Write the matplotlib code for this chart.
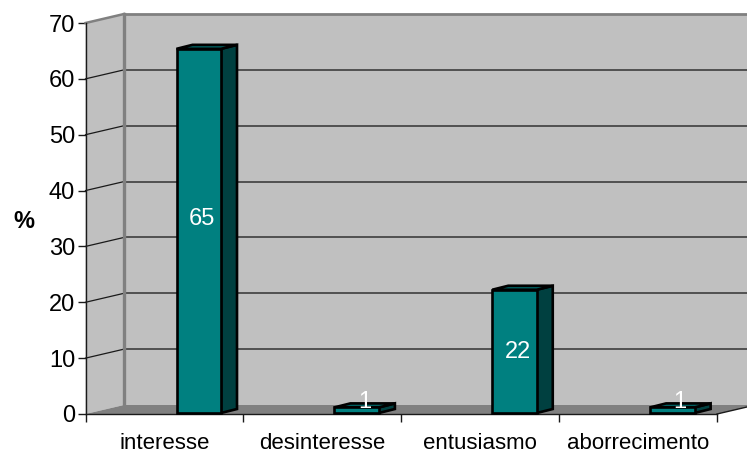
import matplotlib
matplotlib.use('Agg')
import matplotlib.pyplot as plt
from matplotlib.patches import Polygon

categories = ['interesse', 'desinteresse', 'entusiasmo', 'aborrecimento']
values = [65, 1, 22, 1]
y_ticks = [0, 10, 20, 30, 40, 50, 60, 70]

# nudges for the value labels: y units and px
label_shift = [2.4, 1.6, 0.1, 1.6]
label_nudge_px = [2.75, 8.0, 3.5, 7.5]

W, H = 747, 454
X0, X1 = 85.5, 717.0   # axes left/right in px
Y0, Y1 = 414.0, 23.0   # axes bottom/top in px

# oblique depth of the box and of the bars, in data units
per_x = (X1 - X0) / len(categories)
per_y = (Y0 - Y1) / 70
depth_x = 38.5 / per_x
depth_y = 9.0 / per_y
bar_dx = 16.0 / per_x
bar_dy = 4.0 / per_y
bar_width = 44.5 / per_x
bar_left = 91.0 / per_x
bar_base = 1.0 / per_y
bar_stretch = 1.003

plt.rcParams['font.family'] = ['Liberation Sans', 'DejaVu Sans']

fig = plt.figure(figsize=(W / 100, H / 100), dpi=100)
ax = fig.add_axes([X0 / W, 1 - Y0 / H, (X1 - X0) / W, (Y0 - Y1) / H])
ax.set_xlim(0, len(categories))
ax.set_ylim(0, 70)
ax.patch.set_visible(False)


def poly(points, face, edge='none', lw=0, z=1):
    ax.add_patch(Polygon(points, closed=True, facecolor=face, edgecolor=edge,
                         linewidth=lw, zorder=z, clip_on=False, joinstyle='miter'))


n = len(categories)
# side wall, back wall, floor
poly([(0, 0), (depth_x, depth_y), (depth_x, 70 + depth_y), (0, 70)], '#c0c0c0')
poly([(depth_x, depth_y), (n + depth_x, depth_y), (n + depth_x, 70 + depth_y), (depth_x, 70 + depth_y)], '#c0c0c0')
poly([(0, 0), (n, 0), (n + depth_x, depth_y), (depth_x, depth_y)], '#808080')

# gridlines run along the back wall and down the side wall
for t in y_ticks[1:-1]:
    ax.plot([depth_x, n + depth_x], [t + depth_y] * 2, color='#333333', lw=1.1, zorder=1.5, clip_on=False)
    ax.plot([0, depth_x], [t, t + depth_y], color='#1a1a1a', lw=0.9, zorder=1.5, clip_on=False)

# grey outline of the walls
ax.plot([depth_x, depth_x], [depth_y, 70 + depth_y], color='#808080', lw=2.4, zorder=1.6, clip_on=False)
ax.plot([depth_x, n + depth_x], [70 + depth_y] * 2, color='#808080', lw=2.0, zorder=1.6, clip_on=False)
ax.plot([0, depth_x], [70, 70 + depth_y], color='#808080', lw=1.8, zorder=1.6, clip_on=False)
ax.plot([n, n + depth_x], [0, depth_y], color='#1a1a1a', lw=1.0, zorder=1.6, clip_on=False)

# bars: front, side and top faces
for i, v in enumerate(values):
    x = i + bar_left
    x2 = x + bar_width
    b = bar_base
    top = v * bar_stretch + bar_base
    poly([(x2, b), (x2 + bar_dx, b + bar_dy), (x2 + bar_dx, top + bar_dy), (x2, top)], '#004040', 'black', 1.9, 3)
    poly([(x, top), (x2, top), (x2 + bar_dx, top + bar_dy), (x + bar_dx, top + bar_dy)], '#005f5f', 'black', 1.9, 3)
    poly([(x, b), (x2, b), (x2, top), (x, top)], '#008080', 'black', 1.9, 3.1)
    ax.text(x + bar_width / 2 + label_nudge_px[i] / per_x, v / 2 + label_shift[i], str(v), color='white',
            fontsize=17, ha='center', va='center', zorder=4)

for side in ['top', 'right']:
    ax.spines[side].set_visible(False)
for side in ['left', 'bottom']:
    ax.spines[side].set_linewidth(1.0)
    ax.spines[side].set_color('#1a1a1a')

ax.set_yticks(y_ticks)
ax.tick_params(axis='y', length=6, width=1.0, labelsize=17, pad=1.5, color='#1a1a1a')
ax.set_xticks(range(n + 1))
ax.set_xticklabels([])
ax.tick_params(axis='x', which='major', length=6, width=1.0, color='#1a1a1a')
ax.set_xticks([i + 0.5 for i in range(n)], minor=True)
ax.set_xticklabels(categories, minor=True)
ax.tick_params(axis='x', which='minor', length=0, labelsize=16, pad=14)

fig.text(24 / W, 1 - 221 / H, '%', fontsize=17, fontweight='bold', ha='center', va='center')

fig.savefig('out.png', dpi=100)
